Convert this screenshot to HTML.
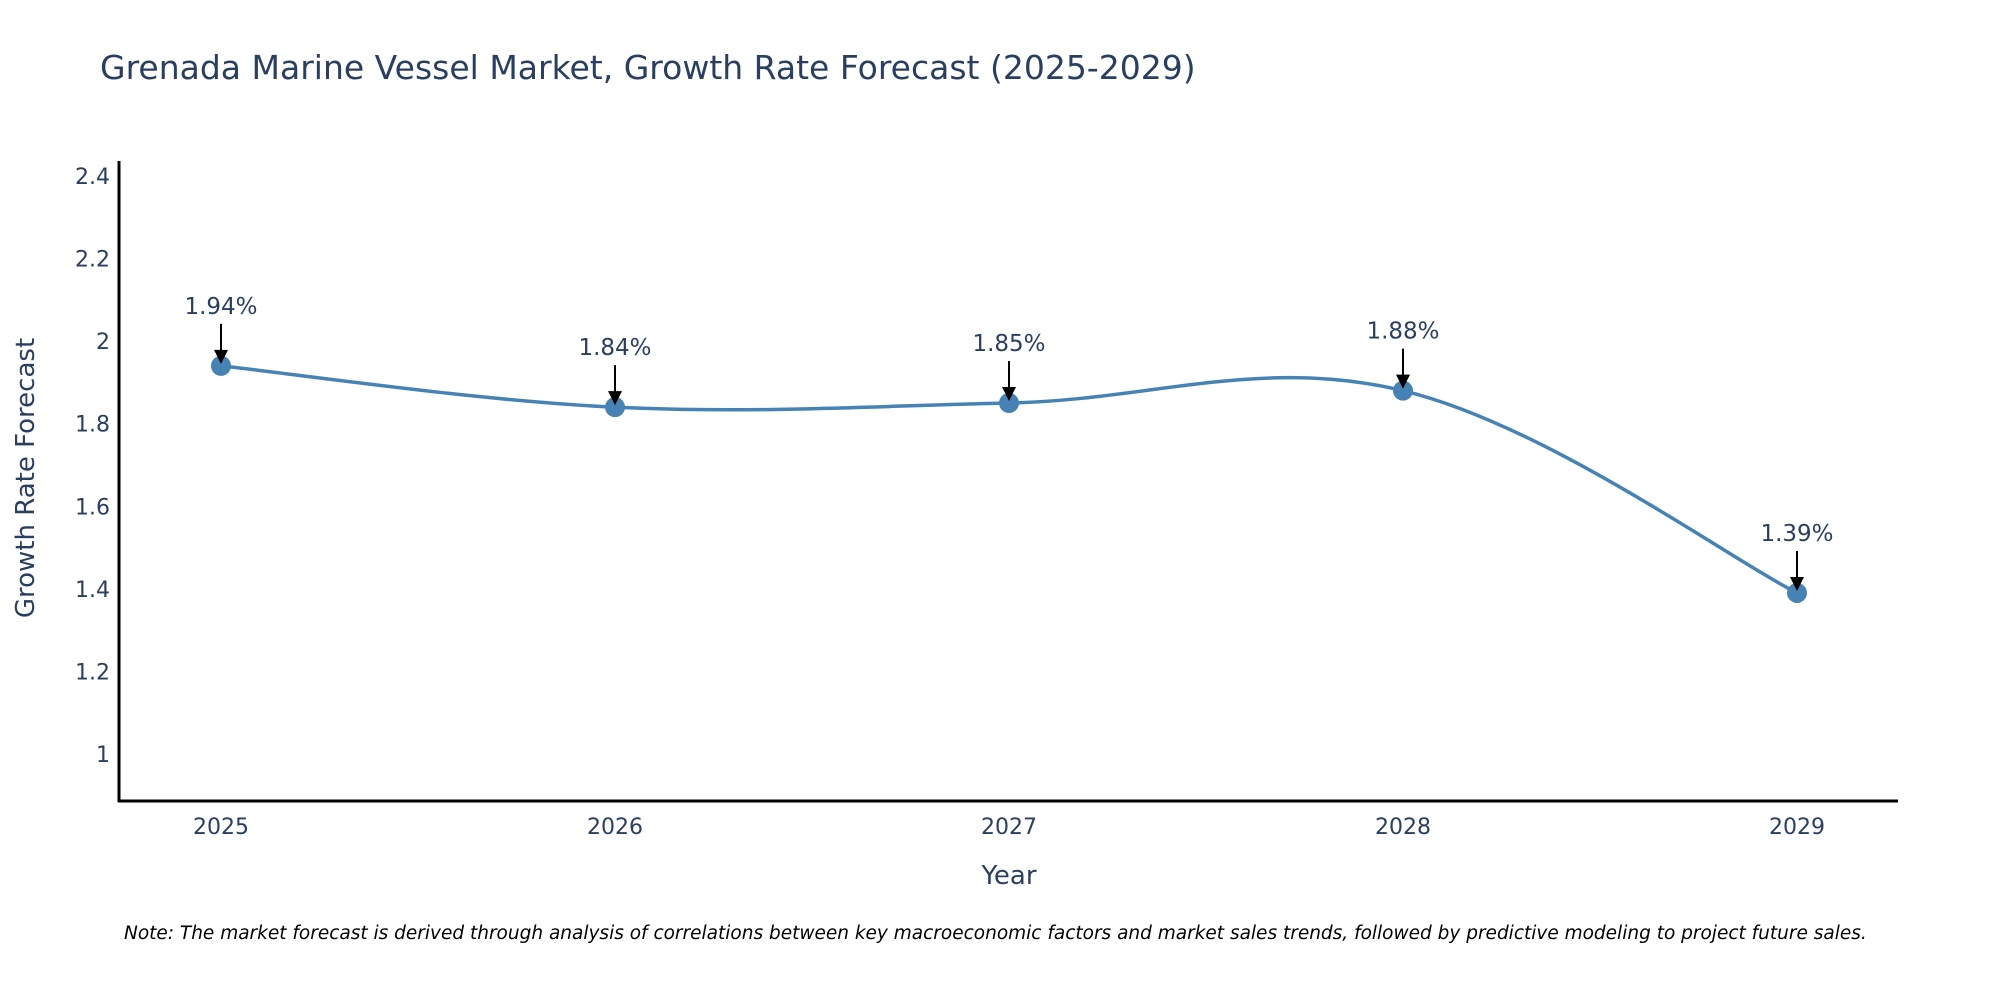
<!DOCTYPE html>
<html><head><meta charset="utf-8"><style>
body{margin:0;background:#fff;}
svg{display:block;font-family:"DejaVu Sans","Liberation Sans",sans-serif;}
</style></head><body>
<svg id="chart" width="2000" height="1000">
<rect width="2000" height="1000" fill="#fff"/>
<text x="100" y="79" font-size="33" fill="#2a3f5f">Grenada Marine Vessel Market, Growth Rate Forecast (2025-2029)</text>
<g id="yticks"></g>
<g id="xticks"></g>
<line x1="119" y1="161" x2="119" y2="802" stroke="#000" stroke-width="3"/>
<line x1="118" y1="801" x2="1898" y2="801" stroke="#000" stroke-width="3"/>
<text x="1009" y="884" font-size="26" fill="#2a3f5f" text-anchor="middle">Year</text>
<text transform="translate(34,478) rotate(-90)" font-size="26" fill="#2a3f5f" text-anchor="middle">Growth Rate Forecast</text>
<g id="series"></g>
<text x="124" y="939" font-size="18.5" font-style="italic" fill="#000">Note: The market forecast is derived through analysis of correlations between key macroeconomic factors and market sales trends, followed by predictive modeling to project future sales.</text>
</svg>
<script>
const years = ["2025","2026","2027","2028","2029"];
const values = [1.94, 1.84, 1.85, 1.88, 1.39];
const valueLabels = ["1.94%","1.84%","1.85%","1.88%","1.39%"];
const yTickValues = [1, 1.2, 1.4, 1.6, 1.8, 2, 2.2, 2.4];
const yTickLabels = ["1","1.2","1.4","1.6","1.8","2","2.2","2.4"];

const NS = "http://www.w3.org/2000/svg";
function xScale(i){ return 221 + i * (1797 - 221) / (years.length - 1); }
function yScale(v){ return 754 - (v - 1) * 412.9; }
function mk(tag, attrs, parent){ const e = document.createElementNS(NS, tag); for (const k in attrs) e.setAttribute(k, attrs[k]); parent.appendChild(e); return e; }

const yt = document.getElementById('yticks');
yTickValues.forEach((v, i) => {
  const t = mk('text', {x: 110, y: yScale(v) + 8, 'font-size': 22, fill: '#2a3f5f', 'text-anchor': 'end'}, yt);
  
  
  t.textContent = yTickLabels[i];
});
const xt = document.getElementById('xticks');
years.forEach((y, i) => {
  const t = mk('text', {x: xScale(i), y: 834, 'font-size': 22, fill: '#2a3f5f', 'text-anchor': 'middle'}, xt);
  
  
  t.textContent = y;
});

const g = document.getElementById('series');
const pts = values.map((v, i) => [xScale(i), yScale(v)]);
let d = 'M' + pts[0][0] + ',' + pts[0][1];
const s = 0.18;
for (let i = 0; i < pts.length - 1; i++) {
  const p0 = pts[Math.max(0, i - 1)], p1 = pts[i], p2 = pts[i + 1], p3 = pts[Math.min(pts.length - 1, i + 2)];
  const c1 = [p1[0] + (p2[0] - p0[0]) * s, p1[1] + (p2[1] - p0[1]) * s];
  const c2 = [p2[0] - (p3[0] - p1[0]) * s, p2[1] - (p3[1] - p1[1]) * s];
  d += ' C' + c1[0] + ',' + c1[1] + ' ' + c2[0] + ',' + c2[1] + ' ' + p2[0] + ',' + p2[1];
}
const line = mk('path', {d: d, fill: 'none', stroke: '#4682b4', 'stroke-width': 3.5}, g);



pts.forEach((p, i) => {
  const c = mk('circle', {cx: p[0], cy: p[1], r: 10, fill: '#4682b4'}, g);
  
  
  const a = mk('line', {x1: p[0], y1: p[1] - 42, x2: p[0], y2: p[1] - 14, stroke: '#000', 'stroke-width': 2}, g);
  
  
  const h = mk('path', {d: 'M' + (p[0] - 7) + ',' + (p[1] - 16) + ' L' + (p[0] + 7) + ',' + (p[1] - 16) + ' L' + p[0] + ',' + (p[1] - 2) + 'Z', fill: '#000'}, g);
  
  
  const t = mk('text', {x: p[0], y: p[1] - 52, 'font-size': 23, fill: '#2a3f5f', 'text-anchor': 'middle'}, g);
  
  
  t.textContent = valueLabels[i];
});
</script>
</body></html>
